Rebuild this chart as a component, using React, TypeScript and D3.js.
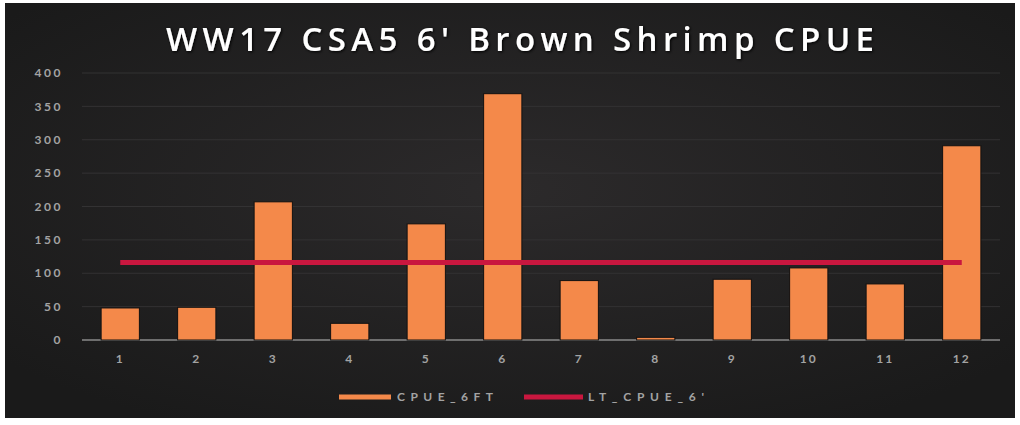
import { useMemo } from 'react';
import * as d3 from 'd3';

// -----------------------------------------------------------------------------
// Data
// -----------------------------------------------------------------------------

const categories = ['1', '2', '3', '4', '5', '6', '7', '8', '9', '10', '11', '12'];
const cpue6ft = [48, 49, 207, 25, 174, 369, 89, 4, 91, 108, 84, 291];
const ltCpue6 = [116, 116, 116, 116, 116, 116, 116, 116, 116, 116, 116, 116];
const yTicks = [0, 50, 100, 150, 200, 250, 300, 350, 400];
const seriesNames = ['CPUE_6FT', "LT_CPUE_6'"];
const title = "WW17 CSA5 6' Brown Shrimp CPUE";

const WIDTH = 1020;
const HEIGHT = 425;
const BAR_COLOR = '#f4894a';
const LINE_COLOR = '#c9173f';
const AXIS_TEXT = '#a3a3a3';

export default function App() {
	const x = useMemo(
		() => d3.scaleBand<string>().domain(categories).range([82, 1000]).paddingInner(0.5).paddingOuter(0.25),
		[]
	);
	const y = useMemo(() => d3.scaleLinear().domain([0, 400]).range([340, 73]), []);

	const line = d3
		.line<number>()
		.x((_, i) => (x(categories[i]) ?? 0) + x.bandwidth() / 2)
		.y((d) => y(d));

	return (
		<svg width={WIDTH} height={HEIGHT} style={{ position: 'absolute', left: 0, top: 0, fontFamily: 'Lato, "Open Sans", sans-serif' }}>
			<defs>
				<radialGradient id="bg" cx="50%" cy="45%" r="65%">
					<stop offset="0%" stopColor="#2c2a2b" />
					<stop offset="100%" stopColor="#1a1a1a" />
				</radialGradient>
				<filter id="shadow" x="-5%" y="-30%" width="110%" height="160%">
					<feDropShadow dx="1" dy="1" stdDeviation="1.5" floodColor="#000" floodOpacity="1" />
				</filter>
			</defs>
			<rect x={0} y={0} width={WIDTH} height={HEIGHT} fill="#ffffff" />
			<rect x={5} y={3} width={1010} height={415} fill="url(#bg)" />

			{/* title */}
			<text
				x={520}
				y={51}
				textAnchor="middle"
				fill="#ffffff"
				fontSize={33}
				fontWeight={600}
				fontFamily='"Open Sans", sans-serif'
				textLength={708}
				lengthAdjust="spacing"
				filter="url(#shadow)"
			>
				{title}
			</text>

			{/* gridlines + y labels */}
			{yTicks.map((t) => (
				<g key={t}>
					{t > 0 && <line x1={82} x2={1000} y1={y(t)} y2={y(t)} stroke="#333233" strokeWidth={1} />}
					<text x={63} y={y(t)} dy="0.35em" textAnchor="end" fill={AXIS_TEXT} fontSize={12} fontWeight={700} letterSpacing={2.5}>
						{t}
					</text>
				</g>
			))}
			<line x1={82} x2={1000} y1={y(0)} y2={y(0)} stroke="#8a8a8a" strokeWidth={1.5} />

			{/* bars */}
			{cpue6ft.map((v, i) => (
				<rect
					key={categories[i]}
					x={x(categories[i])}
					y={y(v)}
					width={x.bandwidth()}
					height={y(0) - y(v)}
					fill={BAR_COLOR}
					stroke="#111"
					strokeWidth={1}
				/>
			))}

			{/* x labels */}
			{categories.map((c) => (
				<text
					key={c}
					x={(x(c) ?? 0) + x.bandwidth() / 2}
					y={363}
					textAnchor="middle"
					fill={AXIS_TEXT}
					fontSize={12}
					fontWeight={700}
					letterSpacing={2}
				>
					{c}
				</text>
			))}

			{/* long-term line */}
			<path d={line(ltCpue6) ?? ''} fill="none" stroke={LINE_COLOR} strokeWidth={5} />

			{/* legend */}
			<line x1={339} x2={391} y1={397} y2={397} stroke={BAR_COLOR} strokeWidth={5} />
			<text x={397} y={397} dy="0.35em" fill={AXIS_TEXT} fontSize={12} fontWeight={700} textLength={96} lengthAdjust="spacing">
				{seriesNames[0]}
			</text>
			<line x1={524} x2={583} y1={397} y2={397} stroke={LINE_COLOR} strokeWidth={5} />
			<text x={588} y={397} dy="0.35em" fill={AXIS_TEXT} fontSize={12} fontWeight={700} textLength={116} lengthAdjust="spacing">
				{seriesNames[1]}
			</text>
		</svg>
	);
}
